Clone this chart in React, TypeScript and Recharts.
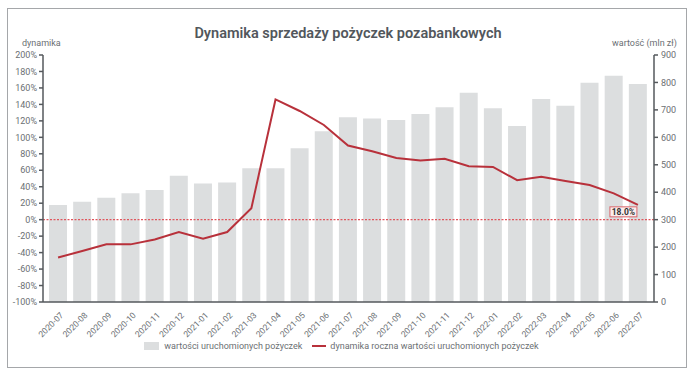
import React from "react";
import {
  ComposedChart,
  Bar,
  Line,
  XAxis,
  YAxis,
  ReferenceLine,
  Legend,
  LabelList
} from "recharts";

const months = [
  "2020-07", "2020-08", "2020-09", "2020-10", "2020-11", "2020-12",
  "2021-01", "2021-02", "2021-03", "2021-04", "2021-05", "2021-06",
  "2021-07", "2021-08", "2021-09", "2021-10", "2021-11", "2021-12",
  "2022-01", "2022-02", "2022-03", "2022-04", "2022-05", "2022-06",
  "2022-07"
];

// wartość uruchomionych pożyczek, mln zł (prawa oś)
const loanValues = [
  353, 365, 380, 396, 408, 460,
  432, 435, 487, 487, 560, 622,
  673, 669, 663, 685, 710, 762,
  706, 641, 740, 715, 799, 824,
  794
];

// dynamika roczna, % (lewa oś)
const yearlyDynamics = [
  -46, -38, -30, -30, -24, -15,
  -23, -15, 14, 146, 132, 115,
  90, 83, 75, 72, 74, 65,
  64, 48, 52, 47, 42, 32,
  18
];

const pctTicks = [-100, -80, -60, -40, -20, 0, 20, 40, 60, 80, 100, 120, 140, 160, 180, 200];
const valueTicks = [0, 100, 200, 300, 400, 500, 600, 700, 800, 900];

const chartData = months.map((m, i) => ({
  month: m,
  value: loanValues[i],
  dyn: yearlyDynamics[i]
}));

const FONT = "Roboto, 'DejaVu Sans', sans-serif";
const TEXT = "#6b6f73";
const AXIS = "#55595d";
const BAR = "#dcdedf";
const LINE = "#b8313b";

const MonthTick = (props: any) => {
  const { x, y, payload } = props;
  return (
    <g transform={`translate(${x + 3},${y + 3})`}>
      <text
        transform="rotate(-45)"
        textAnchor="end"
        dy={4}
        fontSize={8.5}
        fill={TEXT}
        fontFamily={FONT}
      >
        {payload.value}
      </text>
    </g>
  );
};

const LastLabel = (props: any) => {
  const { x, y, index, value } = props;
  if (index !== yearlyDynamics.length - 1) return null;
  const w = 27;
  const h = 10;
  const bx = x - 28;
  const by = y + 2;
  return (
    <g>
      <rect x={bx} y={by} width={w} height={h} fill="#fbeeee" stroke="#d9646a" strokeWidth={1} />
      <text
        x={bx + w / 2}
        y={by + h / 2 + 3}
        textAnchor="middle"
        fontSize={8.5}
        fontWeight={700}
        fill="#333"
        fontFamily={FONT}
      >
        {`${Number(value).toFixed(1)}%`}
      </text>
    </g>
  );
};

const renderLegend = () => (
  <div
    style={{
      display: "flex",
      justifyContent: "center",
      alignItems: "center",
      fontFamily: FONT,
      fontSize: 9,
      color: TEXT,
      paddingRight: 14,
      height: 16
    }}
  >
    <span style={{ display: "inline-block", width: 15, height: 8, background: BAR, marginRight: 5 }} />
    <span>wartości uruchomionych pożyczek</span>
    <span style={{ display: "inline-block", width: 14, height: 2.5, background: LINE, marginLeft: 10, marginRight: 4 }} />
    <span>dynamika roczna wartości uruchomionych pożyczek</span>
  </div>
);

export default function App() {
  return (
    <div style={{ position: "absolute", left: 0, top: 0, width: 696, height: 376, background: "#fff" }}>
      <div
        style={{
          position: "absolute",
          left: 7,
          top: 8,
          width: 680,
          height: 360,
          border: "1.5px solid #a5a7aa",
          boxSizing: "border-box"
        }}
      />
      <div
        style={{
          position: "absolute",
          left: 0,
          width: 696,
          top: 25,
          textAlign: "center",
          fontFamily: FONT,
          fontSize: 14.5,
          fontWeight: 600,
          color: "#52575c"
        }}
      >
        Dynamika sprzedaży pożyczek pozabankowych
      </div>
      <div style={{ position: "absolute", left: 22, top: 38, fontFamily: FONT, fontSize: 9, color: TEXT }}>
        dynamika
      </div>
      <div style={{ position: "absolute", left: 612, top: 38, fontFamily: FONT, fontSize: 9, color: TEXT }}>
        wartość (mln zł)
      </div>
      <div style={{ position: "absolute", left: 0, top: 0 }}>
        <ComposedChart
          width={696}
          height={376}
          data={chartData}
          margin={{ top: 55, right: 7, bottom: 22, left: 8 }}
        >
          <XAxis
            dataKey="month"
            interval={0}
            height={36}
            tickLine={false}
            axisLine={{ stroke: AXIS, strokeWidth: 1.5 }}
            tick={<MonthTick />}
            padding={{ left: 3, right: 4 }}
          />
          <YAxis
            yAxisId="pct"
            orientation="left"
            width={35}
            domain={[-100, 200]}
            ticks={pctTicks}
            interval={0}
            tickFormatter={(v) => `${v}%`}
            tickSize={4}
            tickMargin={2}
            axisLine={{ stroke: AXIS, strokeWidth: 1.5 }}
            tickLine={{ stroke: AXIS, strokeWidth: 1.5 }}
            tick={{ fontSize: 9, fill: TEXT, fontFamily: FONT }}
          />
          <YAxis
            yAxisId="val"
            orientation="right"
            width={35}
            domain={[0, 900]}
            ticks={valueTicks}
            interval={0}
            tickSize={4}
            tickMargin={3}
            axisLine={{ stroke: AXIS, strokeWidth: 1.5 }}
            tickLine={{ stroke: AXIS, strokeWidth: 1.5 }}
            tick={{ fontSize: 9, fill: TEXT, fontFamily: FONT }}
          />
          <Bar
            yAxisId="val"
            dataKey="value"
            fill={BAR}
            barSize={18}
            isAnimationActive={false}
          />
          <ReferenceLine
            yAxisId="pct"
            y={0}
            stroke="#e0555c"
            strokeWidth={1.2}
            strokeDasharray="2 1.5"
          />
          <Line
            yAxisId="pct"
            dataKey="dyn"
            type="linear"
            stroke={LINE}
            strokeWidth={2}
            dot={false}
            isAnimationActive={false}
          >
            <LabelList dataKey="dyn" content={<LastLabel />} />
          </Line>
          <Legend verticalAlign="bottom" height={16} content={renderLegend} />
        </ComposedChart>
      </div>
    </div>
  );
}
